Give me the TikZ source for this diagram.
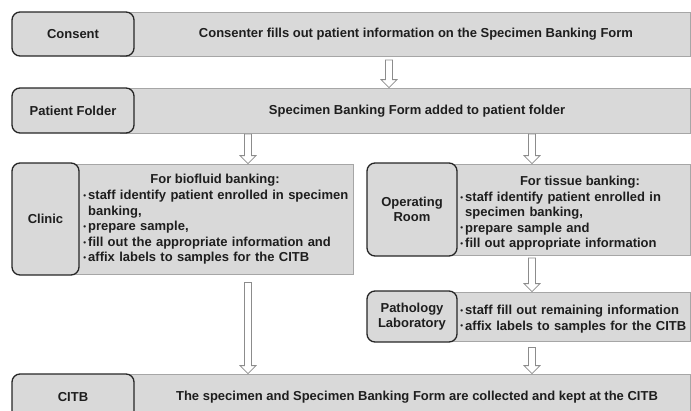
\documentclass[tikz,border=0pt]{standalone}
\usepackage{fontspec}
\setmainfont{Liberation Sans}
\usetikzlibrary{calc}

\definecolor{boxfill}{HTML}{D9D9D9}
\definecolor{boxedge}{HTML}{262626}
\definecolor{panedge}{HTML}{A6A6A6}
\definecolor{ink}{HTML}{1E1E1E}
\definecolor{arrowedge}{HTML}{8C8C8C}

% small bullet used in the step lists
\newcommand\itm{\makebox[5pt][l]{\hspace{0.2pt}\raisebox{1.3pt}{\fontsize{8}{8}\selectfont •}}}
\newcommand\hang{\hspace*{5pt}}

% hollow block arrow: x position, source node, target node, gap below source
\newcommand\blockarrow[4]{%
  \draw[blockarrowstyle] let \p1=(#2.south), \p2=(#3.north) in
    (#1pt-3.5pt,\y1-#4pt) -- (#1pt-3.5pt,\y2+8pt) -- (#1pt-8pt,\y2+8pt)
    -- (#1pt,\y2) -- (#1pt+8pt,\y2+8pt) -- (#1pt+3.5pt,\y2+8pt)
    -- (#1pt+3.5pt,\y1-#4pt) -- cycle;}

\tikzset{
  txt/.style={font=\fontsize{13}{15.6}\selectfont\bfseries, text=ink, inner sep=0pt},
  labelbox/.style={txt, draw=boxedge, line width=1.3pt, fill=boxfill,
    rounded corners=8pt, align=center},
  panel/.style={draw=panedge, line width=0.8pt, fill=boxfill, inner sep=0pt},
  steplist/.style={txt, anchor=base west, align=left},
  blockarrowstyle/.style={draw=arrowedge, line width=0.8pt, fill=white},
}

\begin{document}
\begin{tikzpicture}[x=1pt, y=-1pt]
\useasboundingbox (0,0) rectangle (691,410);
\clip (0,0) rectangle (691,410);

% row 1: consent
\node[panel, minimum width=570.5pt, minimum height=44pt] (consentbar) at (405.25,34.5) {};
\node[labelbox, minimum width=122pt, minimum height=44pt] (consent) at (73,34) {Consent};
\node[txt] (consenttext) at (416,34.5) {Consenter fills out patient information on the Specimen Banking Form};

% row 2: patient folder
\node[panel, minimum width=570.5pt, minimum height=45pt] (folderbar) at (405.25,110.5) {};
\node[labelbox, minimum width=122pt, minimum height=45pt] (folder) at (73,110.5) {Patient Folder};
\node[txt] (foldertext) at (417,111) {Specimen Banking Form added to patient folder};

% row 3 left: clinic
\node[panel, minimum width=283pt, minimum height=110pt] (clinicpanel) at (211.5,219) {};
\node[labelbox, minimum width=67pt, minimum height=112pt] (clinic) at (45.5,219) {Clinic};
\node[txt] (clinictitle) at (215,180) {For biofluid banking:};
\node[steplist, text width=268pt] (cliniclist) at (83,199.5) {%
  \itm staff identify patient enrolled in specimen\\
  \hang banking,\\
  \itm prepare sample,\\
  \itm fill out the appropriate information and\\
  \itm affix labels to samples for the CITB};

% row 3 right: operating room
\node[panel, minimum width=240.5pt, minimum height=91.5pt] (orpanel) at (570.25,209.75) {};
\node[labelbox, minimum width=90pt, minimum height=93pt] (oproom) at (412,209.5) {Operating\\Room};
\node[txt] (ortitle) at (580,182) {For tissue banking:};
\node[steplist, text width=228pt, font=\fontsize{13}{15.3}\selectfont\bfseries] (orlist) at (460,201.5) {%
  \itm staff identify patient enrolled in\\
  \hang specimen banking,\\
  \itm prepare sample and\\
  \itm fill out appropriate information};

% row 4 right: pathology laboratory
\node[panel, minimum width=240.5pt, minimum height=49pt] (pathpanel) at (570.25,316.5) {};
\node[labelbox, minimum width=90pt, minimum height=51pt] (pathlab) at (412,316.5) {Pathology\\Laboratory};
\node[steplist, text width=228pt] (pathlist) at (460,314.5) {%
  \itm staff fill out remaining information\\
  \itm affix labels to samples for the CITB};

% row 5: CITB
\node[panel, minimum width=570.5pt, minimum height=46pt] (citbbar) at (405.25,397) {};
\node[labelbox, minimum width=122pt, minimum height=46pt] (citb) at (73,397) {CITB};
\node[txt] (citbtext) at (417,397.5) {The specimen and Specimen Banking Form are collected and kept at the CITB};

% flow arrows
\blockarrow{389}{consentbar}{folderbar}{3}
\blockarrow{248}{folderbar}{clinicpanel}{0.5}
\blockarrow{532}{folderbar}{orpanel}{0.5}
\blockarrow{248}{clinicpanel}{citbbar}{8}
\blockarrow{532}{orpanel}{pathpanel}{2}
\blockarrow{532}{pathpanel}{citbbar}{6}
\end{tikzpicture}
\end{document}
